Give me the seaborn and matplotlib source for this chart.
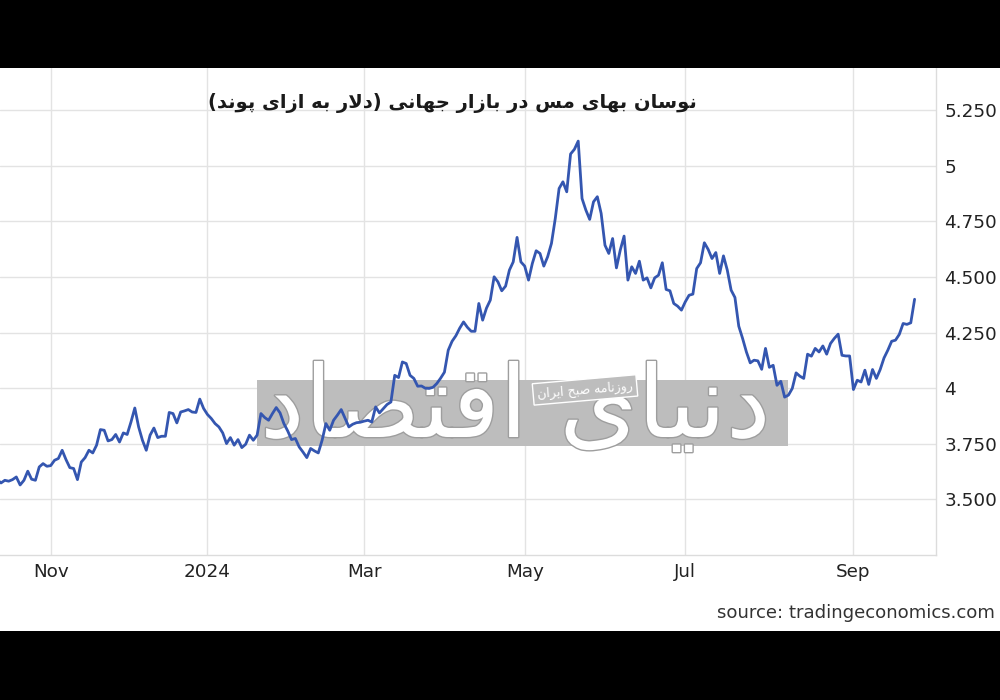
import numpy as np
import pandas as pd
import matplotlib
matplotlib.use("Agg")
import matplotlib.pyplot as plt
import matplotlib.patheffects as pe
from matplotlib.patches import Rectangle
import seaborn as sns

# copper, USD per pound, one close per trading session
price_q4_2023 = [3.589, 3.574, 3.586, 3.582, 3.589, 3.601, 3.565, 3.586, 3.627, 3.591,
                 3.586, 3.646, 3.661, 3.649, 3.652, 3.676, 3.684, 3.721, 3.679, 3.643,
                 3.639, 3.589, 3.668, 3.688, 3.721, 3.709, 3.744, 3.814, 3.811, 3.763,
                 3.769, 3.792, 3.758, 3.799, 3.792, 3.848, 3.911, 3.826, 3.766, 3.721,
                 3.789, 3.821, 3.778, 3.784, 3.784, 3.891, 3.886, 3.844, 3.893, 3.898,
                 3.904, 3.893, 3.891, 3.951, 3.909]
price_q1_2024 = [3.882, 3.864, 3.841, 3.826, 3.799, 3.751, 3.778, 3.744, 3.769, 3.733,
                 3.748, 3.789, 3.766, 3.789, 3.886, 3.868, 3.856, 3.886, 3.913, 3.889,
                 3.841, 3.808, 3.769, 3.774, 3.736, 3.713, 3.688, 3.729, 3.718, 3.709,
                 3.766, 3.841, 3.811, 3.856, 3.879, 3.904, 3.865, 3.826, 3.838, 3.845,
                 3.847, 3.852, 3.856, 3.848, 3.916, 3.889, 3.908, 3.927, 3.938, 4.058,
                 4.048, 4.118, 4.111, 4.058, 4.044, 4.009, 4.010, 4.000, 3.999, 4.004,
                 4.021]
price_q2_2024 = [4.045, 4.072, 4.171, 4.211, 4.236, 4.270, 4.298, 4.274, 4.256, 4.256,
                 4.381, 4.306, 4.360, 4.396, 4.501, 4.478, 4.438, 4.459, 4.531, 4.568,
                 4.678, 4.568, 4.549, 4.486, 4.561, 4.618, 4.606, 4.549, 4.591, 4.651,
                 4.763, 4.898, 4.928, 4.883, 5.053, 5.074, 5.111, 4.853, 4.801, 4.759,
                 4.838, 4.861, 4.786, 4.643, 4.606, 4.673, 4.541, 4.621, 4.684, 4.486,
                 4.546, 4.516, 4.571, 4.486, 4.496, 4.451, 4.496, 4.508, 4.564, 4.444,
                 4.438, 4.381, 4.369, 4.351]
price_q3_2024 = [4.388, 4.418, 4.423, 4.538, 4.564, 4.654, 4.624, 4.583, 4.610, 4.516,
                 4.595, 4.531, 4.441, 4.408, 4.279, 4.224, 4.163, 4.114, 4.126, 4.123,
                 4.085, 4.179, 4.094, 4.103, 4.013, 4.031, 3.960, 3.969, 3.999, 4.069,
                 4.054, 4.044, 4.153, 4.144, 4.179, 4.163, 4.190, 4.153, 4.201, 4.224,
                 4.243, 4.148, 4.145, 4.145, 3.994, 4.036, 4.028, 4.081, 4.017, 4.084,
                 4.044, 4.084, 4.136, 4.171, 4.211, 4.216, 4.242, 4.291, 4.287, 4.294,
                 4.400]

first_session = "2023-10-12"
market_holidays = ["2023-11-23", "2023-12-25", "2024-01-01", "2024-01-15", "2024-02-19",
                   "2024-03-29", "2024-05-27", "2024-07-04", "2024-09-02"]

month_ticks = ["2023-11-01", "2024-01-01", "2024-03-01", "2024-05-01", "2024-07-01", "2024-09-01"]
month_labels = ["Nov", "2024", "Mar", "May", "Jul", "Sep"]
price_ticks = [3.5, 3.75, 4, 4.25, 4.5, 4.75, 5, 5.25]
price_labels = ["3.500", "3.750", "4", "4.250", "4.500", "4.750", "5", "5.250"]

title_fa = "نوسان بهای مس در بازار جهانی (دلار به ازای پوند)"
brand_fa = "دنیای اقتصاد"
tagline_fa = "روزنامه صبح ایران"
source_text = "source: tradingeconomics.com"

# matplotlib has no arabic shaping: pick presentation forms by hand, then reverse
FORMS = {
    "ا": ("\uFE8D", "\uFE8E", None, None),
    "ب": ("\uFE8F", "\uFE90", "\uFE91", "\uFE92"),
    "پ": ("\uFB56", "\uFB57", "\uFB58", "\uFB59"),
    "ت": ("\uFE95", "\uFE96", "\uFE97", "\uFE98"),
    "ج": ("\uFE9D", "\uFE9E", "\uFE9F", "\uFEA0"),
    "ح": ("\uFEA1", "\uFEA2", "\uFEA3", "\uFEA4"),
    "د": ("\uFEA9", "\uFEAA", None, None),
    "ر": ("\uFEAD", "\uFEAE", None, None),
    "ز": ("\uFEAF", "\uFEB0", None, None),
    "س": ("\uFEB1", "\uFEB2", "\uFEB3", "\uFEB4"),
    "ص": ("\uFEB9", "\uFEBA", "\uFEBB", "\uFEBC"),
    "ق": ("\uFED5", "\uFED6", "\uFED7", "\uFED8"),
    "ل": ("\uFEDD", "\uFEDE", "\uFEDF", "\uFEE0"),
    "م": ("\uFEE1", "\uFEE2", "\uFEE3", "\uFEE4"),
    "ن": ("\uFEE5", "\uFEE6", "\uFEE7", "\uFEE8"),
    "ه": ("\uFEE9", "\uFEEA", "\uFEEB", "\uFEEC"),
    "و": ("\uFEED", "\uFEEE", None, None),
    "ی": ("\uFBFC", "\uFBFD", "\uFBFE", "\uFBFF"),
}
MIRROR = {"(": ")", ")": "("}


def rtl(text):
    out = []
    i = 0
    while i < len(text):
        ch = text[i]
        if ch not in FORMS:
            out.append(MIRROR.get(ch, ch))
            i += 1
            continue
        prev = text[i - 1] if i > 0 else ""
        joins_prev = prev in FORMS and FORMS[prev][2] is not None
        nxt = text[i + 1] if i + 1 < len(text) else ""
        if ch == "ل" and nxt == "ا":
            out.append("\uFEFC" if joins_prev else "\uFEFB")
            i += 2
            continue
        iso, fin, ini, med = FORMS[ch]
        joins_next = ini is not None and nxt in FORMS
        if joins_prev and joins_next:
            out.append(med)
        elif joins_prev:
            out.append(fin)
        elif joins_next:
            out.append(ini)
        else:
            out.append(iso)
        i += 1
    return "".join(reversed(out))


sns.set_theme(style="white")
plt.rcParams["font.family"] = ["DejaVu Sans"]

price = price_q4_2023 + price_q1_2024 + price_q2_2024 + price_q3_2024
dates = pd.bdate_range(first_session, periods=len(price), freq="C", holidays=market_holidays)
df = pd.DataFrame({"date": dates, "price": price})
# the source chart spaces sessions evenly (no weekend gaps)
df["session"] = np.arange(len(df))
tick_pos = dates.searchsorted(pd.to_datetime(month_ticks))

fig = plt.figure(figsize=(10, 7), dpi=100)
ax = fig.add_axes([0, 0.2071, 0.936, 0.6965])

sns.lineplot(data=df, x="session", y="price", color="#3456b0", linewidth=2.0, ax=ax, zorder=5)

ax.set_xlim(0.735, 245.6)
ax.set_ylim(3.25, 5.442)
ax.set_xticks(tick_pos)
ax.set_xticklabels(month_labels)
ax.yaxis.tick_right()
ax.set_yticks(price_ticks)
ax.set_yticklabels(price_labels)
ax.set_xlabel("")
ax.set_ylabel("")
ax.grid(True, color="#e3e3e3", linewidth=1)
ax.tick_params(axis="both", length=0, labelsize=13.2, colors="#222222")
ax.tick_params(axis="x", pad=6)
ax.tick_params(axis="y", pad=6)
for side in ["left", "top"]:
    ax.spines[side].set_visible(False)
for side in ["right", "bottom"]:
    ax.spines[side].set_color("#dcdcdc")
    ax.spines[side].set_linewidth(1)

# newspaper watermark
ax.add_patch(Rectangle((0.257, 0.3629), 0.531, 0.0943, transform=fig.transFigure,
                       facecolor="#bdbdbd", edgecolor="none", zorder=2, clip_on=False))
ax.text(0.515, 0.415, rtl(brand_fa), transform=fig.transFigure, fontsize=72,
        color="white", ha="center", va="center", zorder=3,
        path_effects=[pe.withStroke(linewidth=2, foreground="#9e9e9e")])
ax.text(0.585, 0.443, rtl(tagline_fa), transform=fig.transFigure, fontsize=9,
        color="white", ha="center", va="center", rotation=5, zorder=4,
        bbox=dict(facecolor="#bdbdbd", edgecolor="white", linewidth=1, pad=3))

fig.text(0.452, 1 - 103 / 700, rtl(title_fa), ha="center", va="center",
         fontsize=14, fontweight="bold", color="#1a1a1a")
fig.text(0.717, 1 - 613 / 700, source_text, ha="left", va="center",
         fontsize=13.1, color="#333333")

fig.add_artist(Rectangle((0, 1 - 67.5 / 700), 1, 67.5 / 700, transform=fig.transFigure,
                         facecolor="black", edgecolor="none", zorder=10))
fig.add_artist(Rectangle((0, 0), 1, 69 / 700, transform=fig.transFigure,
                         facecolor="black", edgecolor="none", zorder=10))

fig.savefig("out.png", dpi=100)
plt.close(fig)
